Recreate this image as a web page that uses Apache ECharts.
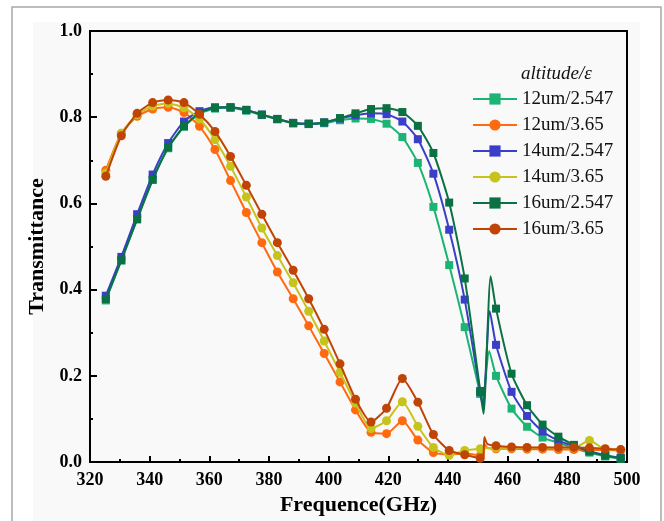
<!DOCTYPE html>
<html>
<head>
<meta charset="utf-8">
<script src="https://cdn.jsdelivr.net/npm/echarts@6/dist/echarts.min.js"></script>
<style>
  html, body { margin: 0; padding: 0; background: #ffffff; }
  #chart { width: 664px; height: 521px; }
</style>
</head>
<body>
<div id="chart"></div>
<script>
// Frequencies (GHz) of the marked samples
const freq = [325.3, 330.5, 335.8, 341.0, 346.2, 351.5, 356.7, 361.9, 367.1, 372.4,
  377.6, 382.8, 388.1, 393.3, 398.5, 403.8, 409.0, 414.2, 419.4, 424.7,
  429.9, 435.1, 440.4, 445.6, 450.8, 456.1, 461.3, 466.5, 471.7, 477.0,
  482.2, 487.4, 492.7, 497.9];

// Transmittance at the marked samples
const t12_2547 = [0.375, 0.468, 0.565, 0.655, 0.728, 0.778, 0.808, 0.820, 0.822, 0.815,
  0.805, 0.795, 0.786, 0.784, 0.786, 0.793, 0.797, 0.796, 0.785, 0.754,
  0.694, 0.592, 0.457, 0.313, 0.158, 0.200, 0.124, 0.082, 0.057, 0.045,
  0.032, 0.022, 0.013, 0.008];
const t12_365 = [0.677, 0.763, 0.802, 0.819, 0.823, 0.811, 0.779, 0.725, 0.653, 0.579,
  0.509, 0.441, 0.379, 0.316, 0.252, 0.186, 0.121, 0.069, 0.066, 0.096,
  0.051, 0.022, 0.018, 0.020, 0.015, 0.031, 0.031, 0.030, 0.030, 0.029,
  0.029, 0.028, 0.028, 0.027];
const t14_2547 = [0.386, 0.476, 0.575, 0.667, 0.740, 0.790, 0.814, 0.823, 0.823, 0.817,
  0.806, 0.796, 0.787, 0.785, 0.788, 0.797, 0.804, 0.809, 0.807, 0.790,
  0.749, 0.669, 0.539, 0.377, 0.162, 0.272, 0.163, 0.107, 0.071, 0.050,
  0.037, 0.025, 0.016, 0.010];
const t14_365 = [0.670, 0.762, 0.806, 0.826, 0.832, 0.822, 0.796, 0.748, 0.686, 0.615,
  0.543, 0.479, 0.416, 0.350, 0.281, 0.208, 0.137, 0.078, 0.096, 0.140,
  0.083, 0.034, 0.016, 0.027, 0.031, 0.033, 0.033, 0.033, 0.033, 0.033,
  0.033, 0.050, 0.030, 0.029];
const t16_2547 = [0.378, 0.468, 0.563, 0.655, 0.730, 0.779, 0.810, 0.822, 0.823, 0.817,
  0.806, 0.796, 0.786, 0.785, 0.788, 0.798, 0.809, 0.819, 0.821, 0.812,
  0.780, 0.717, 0.602, 0.426, 0.165, 0.356, 0.205, 0.132, 0.087, 0.059,
  0.040, 0.025, 0.015, 0.009];
const t16_365 = [0.663, 0.757, 0.809, 0.834, 0.840, 0.834, 0.807, 0.767, 0.709, 0.642,
  0.575, 0.509, 0.445, 0.379, 0.308, 0.228, 0.146, 0.093, 0.125, 0.194,
  0.139, 0.064, 0.027, 0.017, 0.009, 0.038, 0.035, 0.034, 0.034, 0.034,
  0.034, 0.033, 0.031, 0.029];

// Unmarked samples around the narrow resonance near 452 GHz
const r12_2547 = [[451.6, 0.140], [453.8, 0.258]];
const r12_365 = [[451.8, 0.012], [452.2, 0.042], [453.2, 0.033]];
const r14_2547 = [[451.8, 0.128], [454.0, 0.350]];
const r14_365 = [];
const r16_2547 = [[451.9, 0.112], [454.3, 0.431]];
const r16_365 = [[451.8, 0.008], [452.2, 0.058], [453.2, 0.042]];

const names = ['12um/2.547', '12um/3.65', '14um/2.547', '14um/3.65', '16um/2.547', '16um/3.65'];
const colors = ['#1cb474', '#ff6a10', '#3b3ec6', '#c6c41c', '#0a7242', '#c04406'];
const symbols = ['rect', 'circle', 'rect', 'circle', 'rect', 'circle'];
const marked = [t12_2547, t12_365, t14_2547, t14_365, t16_2547, t16_365];
const extra = [r12_2547, r12_365, r14_2547, r14_365, r16_2547, r16_365];

function buildData(vals, ext) {
  const pts = freq.map((f, i) => ({ value: [f, vals[i]] }));
  ext.forEach(p => pts.push({ value: p, symbol: 'none' }));
  pts.sort((a, b) => a.value[0] - b.value[0]);
  return pts;
}

const serif = 'Liberation Serif, Times New Roman, serif';

const series = names.map((n, i) => ({
  name: n,
  type: 'line',
  data: buildData(marked[i], extra[i]),
  smooth: 0.2,
  symbol: symbols[i],
  symbolSize: symbols[i] === 'rect' ? 8 : 9,
  color: colors[i],
  lineStyle: { width: 2, color: colors[i] },
  itemStyle: { color: colors[i] },
  z: 2 + i,
  animation: false
}));

const chart = echarts.init(document.getElementById('chart'), null, { renderer: 'canvas' });
chart.setOption({
  backgroundColor: '#ffffff',
  animation: false,
  graphic: [
    { type: 'rect', z: -10, shape: { x: 33, y: 22, width: 607, height: 510 }, style: { fill: '#f9f9f9' } },
    { type: 'rect', z: -9, shape: { x: 12, y: 7, width: 649, height: 530 }, style: { fill: 'none', stroke: '#a8a8a8', lineWidth: 1.5 } }
  ],
  title: {
    text: 'altitude/ε',
    left: 516,
    top: 59,
    textStyle: { fontFamily: serif, fontStyle: 'italic', fontWeight: 'normal', fontSize: 19, color: '#111' }
  },
  legend: {
    orient: 'vertical',
    left: 467,
    top: 84,
    itemWidth: 44,
    itemHeight: 14,
    itemGap: 6,
    data: names,
    lineStyle: { width: 2 },
    textStyle: { fontFamily: serif, fontSize: 19, color: '#111', lineHeight: 20 }
  },
  grid: {
    left: 90, top: 31, right: 37, bottom: 58,
    show: true, borderColor: '#000', borderWidth: 2, backgroundColor: 'transparent'
  },
  xAxis: {
    type: 'value',
    min: 320, max: 500, interval: 20,
    name: 'Frequence(GHz)',
    nameLocation: 'middle',
    nameGap: 30,
    nameTextStyle: { fontFamily: serif, fontWeight: 'bold', fontSize: 22, color: '#000' },
    axisLine: { show: true, onZero: false, lineStyle: { color: '#000', width: 2 } },
    axisTick: { show: true, inside: true, length: 6, lineStyle: { color: '#000', width: 2 } },
    minorTick: { show: true, splitNumber: 2, length: 3, lineStyle: { color: '#000', width: 2 } },
    splitLine: { show: false },
    axisLabel: { fontFamily: serif, fontWeight: 'bold', fontSize: 18, color: '#000', margin: 9 }
  },
  yAxis: {
    type: 'value',
    min: 0, max: 1, interval: 0.2,
    name: 'Transmittance',
    nameLocation: 'middle',
    nameGap: 35,
    nameTextStyle: { fontFamily: serif, fontWeight: 'bold', fontSize: 22, color: '#000' },
    axisLine: { show: true, onZero: false, lineStyle: { color: '#000', width: 2 } },
    axisTick: { show: true, inside: true, length: 7, lineStyle: { color: '#000', width: 2 } },
    minorTick: { show: true, splitNumber: 2, length: 3, lineStyle: { color: '#000', width: 2 } },
    splitLine: { show: false },
    axisLabel: { fontFamily: serif, fontWeight: 'bold', fontSize: 18, color: '#000', margin: 8,
      formatter: v => v.toFixed(1) }
  },
  series: series
});
</script>
</body>
</html>
